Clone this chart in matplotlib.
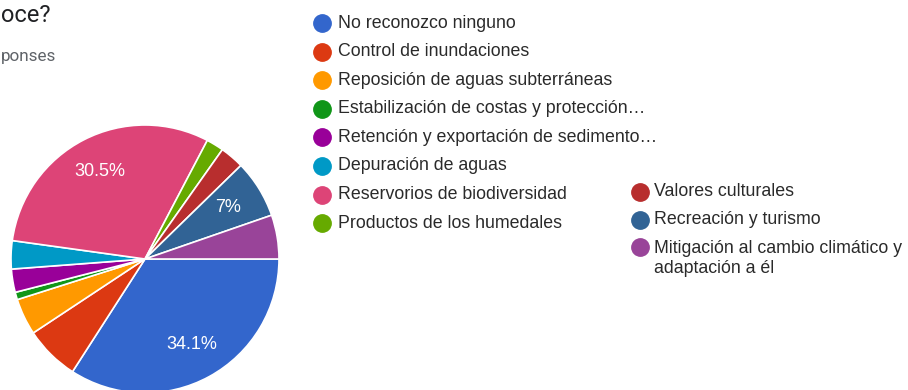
import numpy as np
import matplotlib
matplotlib.use('Agg')
import matplotlib.pyplot as plt

# 데이터 (slices clockwise from 3 o'clock)
labels = ['No reconozco ninguno', 'Control de inundaciones', 'Reposición de aguas subterráneas',
          'Estabilización de costas y protección…', 'Retención y exportación de sedimento…',
          'Depuración de aguas', 'Reservorios de biodiversidad', 'Productos de los humedales',
          'Valores culturales', 'Recreación y turismo',
          'Mitigación al cambio climático y\nadaptación a él']
values = [34.1, 6.6, 4.4, 0.9, 2.8, 3.4, 30.5, 2.1, 2.9, 7.0, 5.3]
colors = ['#3366cc', '#dc3912', '#ff9900', '#109618', '#990099', '#0099c6',
          '#dd4477', '#66aa00', '#b82e2e', '#316395', '#994499']
title_tail = 'oce?'
subtitle_tail = 'ponses'

W, H = 908, 390
fig = plt.figure(figsize=(W / 100, H / 100), dpi=100)
ax = fig.add_axes([0, 0, 1, 1])

def pct_label(p):
    if p < 6.95:
        return ''
    return ('%.1f' % p).rstrip('0').rstrip('.') + '%'

wedges, texts, autotexts = ax.pie(
    values, colors=colors, center=(145, H - 259), radius=134,
    startangle=0, counterclock=False, autopct=pct_label, pctdistance=0.73,
    wedgeprops=dict(edgecolor='white', linewidth=1.2),
    textprops=dict(color='white', fontsize=13, family='Liberation Sans'),
    frame=True)
ax.set_xlim(0, W)
ax.set_ylim(0, H)
ax.set_aspect('equal')
ax.axis('off')

# title (cut off at left edge in the source)
ax.text(1, H - 16, title_tail, ha='left', va='center', fontsize=17,
        family='Roboto', color='#202124')
ax.text(1, H - 57, subtitle_tail, ha='left', va='center', fontsize=12.3,
        family='Roboto', color='#5f6368')

# legend, two columns
for i, (lab, col) in enumerate(zip(labels, colors)):
    if i < 8:
        mx, tx, y = 322, 338, 23 + 28.6 * i
    else:
        mx, tx, y = 640, 654, 192 + 27.6 * (i - 8)
    nl = lab.count('\n')
    ax.plot(mx, H - y, 'o', ms=12.5, color=col, mec=col)
    ax.text(tx, H - y - nl * 11.5, lab, ha='left', va='center', fontsize=12.8,
            family='Liberation Sans', color='#2a2a2a', linespacing=1.25)

fig.savefig('out.png', dpi=100)
